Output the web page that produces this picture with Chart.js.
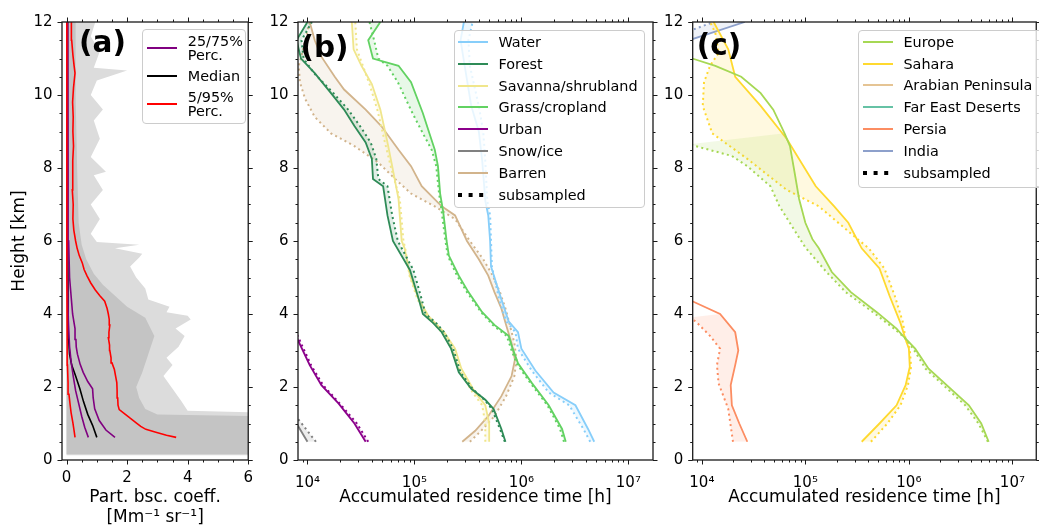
<!DOCTYPE html>
<html lang="en">
<head>
<meta charset="utf-8">
<title>Backscatter and residence time profiles</title>
<script src="https://cdn.jsdelivr.net/npm/chart.js@4.4.1/dist/chart.umd.min.js"></script>
<style>
  html, body { margin: 0; padding: 0; background: #fff; }
  body { position: relative; width: 1039px; height: 528px; overflow: hidden;
         font-family: 'DejaVu Sans', sans-serif; }
  canvas { position: absolute; top: 0; }
  .legend { position: absolute; box-sizing: border-box; border: 1px solid #cccccc; border-radius: 4px;
            background: rgba(255, 255, 255, 0.8); display: flex; flex-direction: column;
            font-size: 14.4px; line-height: 14px; color: #000; }
  .legend .item { display: flex; align-items: center; white-space: nowrap; }
  .legend svg { flex: none; margin-right: 10.5px; }
</style>
</head>
<body>
<canvas id="chartA" width="262" height="528" style="left:0"></canvas>
<canvas id="chartB" width="396" height="528" style="left:262px"></canvas>
<canvas id="chartC" width="381" height="528" style="left:658px"></canvas>
<div class="legend" id="legendA" style="left:142px;top:29px;width:104px;height:95px;padding:4px 0 0 4.3px;gap:7px"></div>
<div class="legend" id="legendB" style="left:454px;top:29.5px;width:191px;height:178.5px;padding:4.5px 0 0 3px;gap:7.8px"></div>
<div class="legend" id="legendC" style="left:858.3px;top:29.5px;width:200px;height:158px;padding:4.3px 0 0 3.7px;gap:7.8px"></div>

<script>
// axis ticks
const heightTicks = [0, 2, 4, 6, 8, 10, 12];
const bscTicks = [0, 2, 4, 6];
const timeTicks = [1e4, 1e5, 1e6, 1e7];

// (a) particle backscatter profiles, [coefficient Mm-1 sr-1, height km]
const bscSpreadAll = [[6.5,0.12],[6.5,1.3],[4.0,1.35],[3.8,1.6],[3.5,1.95],[3.2,2.3],[3.5,2.6],[3.3,2.8],
  [3.7,3.1],[3.9,3.4],[3.6,3.6],[4.1,3.85],[4.0,3.95],[3.3,4.05],[3.4,4.2],[2.7,4.4],[2.6,4.7],[2.3,5.0],
  [2.1,5.3],[2.4,5.55],[2.5,5.65],[1.6,5.8],[2.4,5.9],[1.0,5.97],[0.8,6.2],[1.1,6.6],[0.8,7.0],[1.2,7.4],
  [0.9,7.8],[1.3,7.9],[0.8,8.3],[1.1,8.8],[0.9,9.3],[1.2,9.6],[0.8,10.0],[1.0,10.4],[2.0,10.67],[0.9,10.75],
  [1.1,11.2],[0.8,11.6],[0.95,12.0]];
const bscSpreadCore = [[6.5,0.15],[6.5,1.2],[3.0,1.25],[2.6,1.4],[2.4,1.7],[2.3,2.0],[2.5,2.4],[2.7,2.9],
  [2.9,3.4],[2.6,3.9],[2.0,4.2],[1.6,4.5],[1.2,4.8],[0.9,5.1],[0.65,5.5],[0.5,5.9],[0.4,6.5],[0.35,8],
  [0.3,10],[0.3,12]];
const bscP05 = [[0.28,0.62],[0.25,0.8],[0.21,1.02],[0.15,1.3],[0.12,1.5],[0.08,1.8],[0.05,2.12],[0.03,2.6],
  [0.02,3.2],[0.01,5],[0.01,12]];
const bscP25 = [[0.72,0.62],[0.6,0.9],[0.5,1.2],[0.4,1.55],[0.3,1.9],[0.22,2.3],[0.15,2.7],[0.1,3.1],
  [0.06,3.8],[0.03,5],[0.02,7],[0.02,12]];
const bscMedian = [[1.0,0.62],[0.86,0.95],[0.7,1.25],[0.56,1.6],[0.44,1.95],[0.3,2.3],[0.17,2.6],[0.1,2.9],
  [0.07,3.3],[0.05,4],[0.04,6],[0.03,12]];
const bscP75 = [[1.6,0.62],[1.3,0.82],[1.08,1.08],[0.93,1.4],[0.88,1.7],[0.86,1.95],[0.7,2.15],[0.55,2.4],
  [0.45,2.62],[0.36,2.9],[0.32,3.1],[0.31,3.3],[0.28,3.6],[0.2,4.0],[0.15,4.5],[0.1,5],[0.07,6],[0.05,8],[0.04,12]];
const bscP95 = [[3.62,0.62],[3.3,0.68],[2.95,0.76],[2.62,0.84],[2.45,0.92],[2.3,1.02],[2.08,1.16],[1.9,1.28],
  [1.74,1.38],[1.7,1.5],[1.69,1.7],[1.67,1.9],[1.66,2.12],[1.62,2.3],[1.58,2.48],[1.5,2.66],[1.47,2.8],
  [1.43,3.0],[1.42,3.15],[1.38,3.35],[1.4,3.5],[1.43,3.7],[1.41,3.85],[1.38,4.0],[1.34,4.15],[1.26,4.35],
  [1.1,4.5],[0.95,4.66],[0.8,4.85],[0.68,5.04],[0.58,5.22],[0.52,5.4],[0.42,5.6],[0.35,5.8],[0.3,6.0],
  [0.24,6.3],[0.21,6.6],[0.22,7.0],[0.19,7.4],[0.21,7.8],[0.2,8.2],[0.23,8.6],[0.21,9.0],[0.22,9.4],
  [0.2,9.8],[0.23,10.2],[0.28,10.6],[0.25,10.8],[0.21,11.1],[0.17,11.5],[0.16,12]];

// (b) residence time per surface type, [hours, height km]; full and subsampled
const landNames = ['Water', 'Forest', 'Savanna/shrubland', 'Grass/cropland', 'Urban', 'Snow/ice', 'Barren'];
const landColors = ['#87cefa', '#2e8b57', '#f0e68c', '#62d262', '#8b008b', '#808080', '#d2b48c'];
const waterFull = [[4.8e6,0.5],[4.2e6,0.85],[3.2e6,1.5],[2.0e6,1.85],[1.35e6,2.45],[1.0e6,3.05],[9.3e5,3.5],
  [7.6e5,3.8],[6.5e5,4.4],[5.2e5,5.3],[5.1e5,6.0],[4.9e5,6.7],[4.6e5,7.1],[4.3e5,8.2],[4.0e5,9.0],
  [3.4e5,9.7],[2.95e5,10.8],[2.7e5,11.5],[2.9e5,12]];
const waterSub = [[4.4e6,0.5],[3.8e6,0.85],[2.8e6,1.5],[1.8e6,1.85],[1.25e6,2.45],[9.3e5,3.05],[8.8e5,3.5],
  [7.2e5,3.8],[6.2e5,4.4],[5.3e5,5.3],[5.2e5,6.0],[5.1e5,6.7],[4.8e5,7.1],[4.6e5,8.2],[4.4e5,9.0],
  [4.0e5,9.7],[3.3e5,10.8],[3.2e5,11.5],[3.5e5,12]];
const forestFull = [[7.1e5,0.5],[6.5e5,0.85],[5.5e5,1.4],[4.6e5,1.65],[3.4e5,1.95],[2.6e5,2.4],[2.2e5,3.05],
  [1.8e5,3.5],[1.5e5,3.75],[1.2e5,4.0],[1.1e5,4.4],[9.1e4,5.2],[6.3e4,6.0],[5.6e4,6.7],[5.1e4,7.5],
  [4.1e4,7.7],[4.0e4,8.25],[3.5e4,8.7],[2.75e4,9.15],[2.2e4,9.6],[1.66e4,10.05],[1.17e4,10.6],[8.7e3,11.0],
  [7.9e3,11.5],[1.0e4,12]];
const forestSub = [[7.0e5,0.5],[6.3e5,0.85],[5.3e5,1.4],[4.5e5,1.65],[3.5e5,1.95],[2.7e5,2.4],[2.3e5,3.05],
  [1.9e5,3.5],[1.6e5,3.75],[1.27e5,4.0],[1.17e5,4.4],[9.8e4,5.2],[7.0e4,6.0],[6.2e4,6.7],[5.6e4,7.5],
  [4.6e4,7.7],[4.4e4,8.25],[3.9e4,8.7],[3.1e4,9.15],[2.4e4,9.6],[1.75e4,10.05],[1.15e4,10.6],[9.2e3,11.0],
  [8.8e3,11.5],[1.1e4,12]];
const savannaFull = [[5.0e5,0.5],[5.0e5,1.0],[4.6e5,1.5],[3.7e5,1.85],[2.75e5,2.5],[2.4e5,3.05],[1.9e5,3.5],
  [1.35e5,3.95],[1.1e5,4.4],[9.1e4,5.05],[8.1e4,5.8],[7.6e4,6.0],[7.1e4,7.15],[6.2e4,8.05],[5.6e4,8.7],
  [4.8e4,9.6],[4.0e4,10.3],[3.2e4,10.8],[2.7e4,11.25],[2.6e4,12]];
const savannaSub = [[4.6e5,0.5],[4.6e5,1.0],[4.3e5,1.5],[3.5e5,1.85],[2.6e5,2.5],[2.25e5,3.05],[1.8e5,3.5],
  [1.3e5,3.95],[1.07e5,4.4],[9.0e4,5.05],[8.2e4,5.8],[7.9e4,6.0],[7.3e4,7.15],[6.0e4,8.05],[5.3e4,8.7],
  [4.5e4,9.6],[3.8e4,10.3],[3.3e4,10.8],[2.9e4,11.25],[2.8e4,12]];
const grassFull = [[2.6e6,0.5],[2.4e6,0.85],[1.8e6,1.5],[1.26e6,2.1],[9.3e5,2.65],[8.3e5,3.05],[7.6e5,3.4],
  [5.6e5,3.7],[4.3e5,4.05],[3.2e5,4.6],[2.6e5,5.05],[2.1e5,5.6],[2.0e5,6.0],[1.86e5,6.8],[1.74e5,7.3],
  [1.66e5,8.05],[1.55e5,8.5],[1.38e5,8.95],[1.2e5,9.5],[9.3e4,10.35],[7.1e4,10.8],[4.1e4,11.0],[3.7e4,11.5],
  [4.8e4,12]];
const grassSub = [[2.5e6,0.5],[2.3e6,0.85],[1.75e6,1.5],[1.22e6,2.1],[9.0e5,2.65],[8.0e5,3.05],[7.3e5,3.4],
  [5.4e5,3.7],[4.2e5,4.05],[3.1e5,4.6],[2.5e5,5.05],[2.05e5,5.6],[1.95e5,6.0],[1.8e5,6.8],[1.7e5,7.3],
  [1.6e5,8.05],[1.45e5,8.5],[1.2e5,8.95],[9.6e4,9.5],[7.0e4,10.35],[5.6e4,10.8],[4.6e4,11.0],[4.2e4,11.5],
  [3.8e4,12]];
const urbanFull = [[3.5e4,0.5],[2.75e4,1.0],[1.95e4,1.55],[1.35e4,2.05],[1.05e4,2.6],[8.1e3,3.3],[7.5e3,3.5]];
const urbanSub = [[3.7e4,0.5],[2.9e4,1.0],[2.0e4,1.55],[1.4e4,2.05],[1.08e4,2.6],[8.4e3,3.3],[7.8e3,3.5]];
const snowFull = [[1.0e4,0.5],[8.1e3,0.95],[7.5e3,1.1]];
const snowSub = [[1.2e4,0.5],[8.3e3,1.1],[7.6e3,1.25]];
const barrenFull = [[2.8e5,0.5],[3.7e5,0.8],[4.9e5,1.2],[6.5e5,1.75],[8.1e5,2.3],[8.7e5,2.75],[8.1e5,3.2],
  [7.2e5,3.7],[6.5e5,4.15],[5.6e5,4.6],[4.9e5,5.05],[4.0e5,5.5],[3.1e5,6.0],[2.4e5,6.7],[1.8e5,6.95],
  [1.17e5,7.5],[9.3e4,8.05],[7.1e4,8.5],[4.9e4,9.15],[3.5e4,9.6],[2.2e4,10.15],[1.8e4,10.5],[1.35e4,11.05],
  [1.17e4,11.5],[1.05e4,12]];
const barrenSub = [[3.3e5,0.5],[4.2e5,0.8],[5.6e5,1.2],[7.2e5,1.75],[8.6e5,2.3],[9.0e5,2.75],[8.6e5,3.2],
  [7.8e5,3.7],[7.1e5,4.15],[6.3e5,4.6],[5.4e5,5.05],[4.4e5,5.5],[3.3e5,6.0],[2.4e5,6.6],[1.55e5,6.95],
  [9.3e4,7.3],[6.6e4,7.7],[4.6e4,8.15],[2.75e4,8.6],[1.66e4,8.95],[1.17e4,9.4],[9.5e3,9.9],[8.5e3,10.35],
  [8.3e3,10.8],[9.0e3,11.2],[1.05e4,12]];
const landFull = [waterFull, forestFull, savannaFull, grassFull, urbanFull, snowFull, barrenFull];
const landSub = [waterSub, forestSub, savannaSub, grassSub, urbanSub, snowSub, barrenSub];

// (c) residence time per source region, [hours, height km]; full and subsampled
const regionNames = ['Europe', 'Sahara', 'Arabian Peninsula', 'Far East Deserts', 'Persia', 'India'];
const regionColors = ['#a6d854', '#ffd92f', '#e5c494', '#66c2a5', '#fc8d62', '#8da0cb'];
const europeFull = [[5.9e6,0.5],[5.0e6,1.0],[3.8e6,1.5],[1.55e6,2.5],[1.15e6,3.05],[9.1e5,3.35],[7.6e5,3.6],
  [4.9e5,4.05],[2.75e5,4.6],[1.8e5,5.15],[1.35e5,5.8],[1.17e5,6.05],[1.0e5,6.5],[8.7e4,7.15],[7.9e4,7.85],
  [7.1e4,8.6],[6.3e4,8.95],[4.9e4,9.6],[3.7e4,10.05],[2.4e4,10.5],[1.35e4,10.8],[8.1e3,11.0],[7.5e3,11.1]];
const europeSub = [[5.8e6,0.5],[4.7e6,1.0],[3.5e6,1.5],[1.45e6,2.5],[1.1e6,3.05],[9.1e5,3.35],[7.2e5,3.6],
  [4.5e5,4.05],[2.45e5,4.6],[1.6e5,5.15],[1.0e5,5.82],[5.6e4,6.96],[4.6e4,7.5],[2.75e4,8.05],[1.95e4,8.33],
  [8.7e3,8.6],[7.5e3,8.65]];
const saharaFull = [[3.5e5,0.5],[5.2e5,1.0],[7.6e5,1.5],[9.3e5,2.05],[1.02e6,2.55],[1.0e6,3.05],[9.3e5,3.3],
  [8.3e5,3.75],[6.5e5,4.5],[5.2e5,5.25],[3.5e5,5.8],[2.6e5,6.5],[1.9e5,6.95],[1.26e5,7.5],[6.6e4,8.8],
  [3.7e4,9.7],[2.1e4,10.5],[1.8e4,11.25],[1.3e4,12]];
const saharaSub = [[4.3e5,0.5],[6.2e5,1.0],[8.3e5,1.5],[9.8e5,2.05],[1.05e6,2.55],[1.02e6,3.05],[9.3e5,3.3],
  [8.8e5,3.75],[7.3e5,4.5],[5.8e5,5.25],[4.1e5,5.8],[3.2e5,6.05],[1.35e5,6.95],[6.6e4,7.4],[2.75e4,8.25],
  [1.26e4,8.95],[1.02e4,9.7],[1.05e4,10.35],[1.2e4,10.8],[1.45e4,11.15],[1.35e4,11.7],[1.2e4,12]];
const arabiaFull = [];
const arabiaSub = [];
const farEastFull = [];
const farEastSub = [];
const persiaFull = [[2.75e4,0.5],[2.3e4,1.0],[1.95e4,1.5],[1.9e4,2.05],[2.1e4,2.6],[2.25e4,3.0],[2.1e4,3.5],
  [1.5e4,4.0],[8.1e3,4.35],[7.5e3,4.42]];
const persiaSub = [[2.0e4,0.5],[1.8e4,1.4],[1.45e4,2.1],[1.4e4,2.6],[1.5e4,3.05],[1.2e4,3.4],[8.7e3,3.8],[7.5e3,3.9]];
const indiaFull = [[7.5e3,11.5],[2.6e4,12]];
const indiaSub = [[7.5e3,11.75],[1.3e4,12]];
const regionFull = [europeFull, saharaFull, arabiaFull, farEastFull, persiaFull, indiaFull];
const regionSub = [europeSub, saharaSub, arabiaSub, farEastSub, persiaSub, indiaSub];

const FONT = "'DejaVu Sans', sans-serif";
const SUP = { '0': '⁰', '1': '¹', '2': '²', '3': '³', '4': '⁴', '5': '⁵', '6': '⁶', '7': '⁷', '8': '⁸', '9': '⁹' };

function points(arr) {
  return arr.map(p => ({ x: p[0], y: p[1] }));
}

function withAlpha(hex, a) {
  const n = parseInt(hex.slice(1), 16);
  return 'rgba(' + (n >> 16) + ',' + ((n >> 8) & 255) + ',' + (n & 255) + ',' + a + ')';
}

function linearSteps(lo, hi, step) {
  const out = [];
  for (let v = lo; v <= hi + 1e-9; v += step) out.push(+v.toFixed(3));
  return out;
}

function logMinors(lo, hi) {
  const out = [];
  for (let e = 3; e <= 7; e++) {
    for (let k = 2; k <= 9; k++) {
      const v = k * Math.pow(10, e);
      if (v >= lo && v <= hi) out.push(v);
    }
  }
  return out;
}

// spines on all four sides, outward ticks, and the panel letter
const frameTicks = {
  id: 'frameTicks',
  afterDatasetsDraw(chart, args, opts) {
    const { ctx, chartArea: a } = chart;
    const xs = chart.scales.x, ys = chart.scales.y;
    ctx.save();
    ctx.strokeStyle = '#1a1a1a';
    ctx.lineWidth = 1;
    ctx.beginPath();
    const drawX = (vals, len) => vals.forEach(v => {
      const px = Math.round(xs.getPixelForValue(v)) + 0.5;
      if (px < a.left - 0.6 || px > a.right + 0.6) return;
      ctx.moveTo(px, a.bottom); ctx.lineTo(px, a.bottom + len);
      ctx.moveTo(px, a.top); ctx.lineTo(px, a.top - len);
    });
    const drawY = (vals, len) => vals.forEach(v => {
      const py = Math.round(ys.getPixelForValue(v)) + 0.5;
      ctx.moveTo(a.left, py); ctx.lineTo(a.left - len, py);
      ctx.moveTo(a.right, py); ctx.lineTo(a.right + len, py);
    });
    drawX(opts.xMajor, 4.5);
    drawX(opts.xMinor, 2.5);
    drawY(opts.yMajor, 4.5);
    drawY(opts.yMinor, 2.5);
    ctx.stroke();
    ctx.lineWidth = 1.3;
    ctx.strokeRect(a.left, a.top, a.right - a.left, a.bottom - a.top);
    ctx.fillStyle = '#000';
    ctx.font = 'bold 29.5px ' + FONT;
    ctx.textBaseline = 'alphabetic';
    ctx.textAlign = 'left';
    ctx.fillText(opts.tag, a.left + opts.tagDx, a.top + opts.tagDy);
    ctx.restore();
  }
};

function heightAxis(width, withTitle) {
  return {
    type: 'linear', position: 'left', min: 0, max: 12,
    grid: { display: false, drawTicks: false },
    border: { display: false },
    afterBuildTicks: s => { s.ticks = heightTicks.map(v => ({ value: v })); },
    afterFit: s => { s.width = width; },
    ticks: { color: '#000', padding: 9.5, font: { family: FONT, size: 15 }, callback: v => String(v) },
    title: {
      display: withTitle, text: 'Height [km]', color: '#000',
      font: { family: FONT, size: 17, lineHeight: 1.2 }, padding: { top: 9.5, bottom: 0 }
    }
  };
}

function timeAxis() {
  return {
    type: 'logarithmic', position: 'bottom', min: 8160, max: 1.7e7,
    grid: { display: false, drawTicks: false },
    border: { display: false },
    afterBuildTicks: s => { s.ticks = timeTicks.map(v => ({ value: v })); },
    afterFit: s => { s.height = 68; },
    ticks: {
      color: '#000', padding: 14, autoSkip: false, maxRotation: 0,
      font: { family: FONT, size: 15 },
      callback: v => '10' + String(Math.round(Math.log10(v))).split('').map(c => SUP[c]).join('')
    },
    title: {
      display: true, text: 'Accumulated residence time [h]', color: '#000',
      font: { family: FONT, size: 17, lineHeight: 1.2 }, padding: { top: 0, bottom: 20.3 }
    }
  };
}

function baseOptions(rightPad, scales, ticks) {
  return {
    indexAxis: 'y',
    responsive: false,
    animation: false,
    devicePixelRatio: 1,
    layout: { padding: { left: 0, right: rightPad, top: 22, bottom: 0 } },
    elements: { point: { radius: 0, hoverRadius: 0 }, line: { tension: 0, borderCapStyle: 'butt' } },
    plugins: { legend: { display: false }, tooltip: { enabled: false }, frameTicks: ticks },
    scales: scales
  };
}

// one solid line per series, its subsampled twin dotted, and a light band between them
function pairDatasets(names, colors, full, sub) {
  const sets = [];
  names.forEach((name, i) => {
    sets.push({
      label: name, data: points(full[i]), borderColor: colors[i], borderWidth: 1.8,
      fill: { target: '+1', above: withAlpha(colors[i], 0.15), below: withAlpha(colors[i], 0.15) }
    });
    sets.push({
      label: name + ' (subsampled)', data: points(sub[i]), borderColor: colors[i], borderWidth: 2,
      borderDash: [2, 3.3], fill: false
    });
  });
  return sets;
}

// ---- (a) ----
new Chart(document.getElementById('chartA'), {
  type: 'line',
  data: {
    datasets: [
      { label: '5/95% Perc.', data: points(bscP05), borderColor: '#ff0000', borderWidth: 1.6, fill: false, order: 1 },
      { label: '5/95% Perc.', data: points(bscP95), borderColor: '#ff0000', borderWidth: 1.6, fill: false, order: 1 },
      { label: '25/75% Perc.', data: points(bscP25), borderColor: '#800080', borderWidth: 1.6, fill: false, order: 2 },
      { label: '25/75% Perc.', data: points(bscP75), borderColor: '#800080', borderWidth: 1.6, fill: false, order: 2 },
      { label: 'Median', data: points(bscMedian), borderColor: '#000000', borderWidth: 1.6, fill: false, order: 2 },
      { label: 'profiles', data: points(bscSpreadCore), borderWidth: 0, borderColor: 'rgba(0,0,0,0)',
        backgroundColor: '#c4c4c4', fill: 'origin', order: 9 },
      { label: 'profiles', data: points(bscSpreadAll), borderWidth: 0, borderColor: 'rgba(0,0,0,0)',
        backgroundColor: '#dcdcdc', fill: 'origin', order: 10 }
    ]
  },
  options: baseOptions(8.7, {
    x: {
      type: 'linear', position: 'bottom', min: -0.15, max: 6,
      grid: { display: false, drawTicks: false },
      border: { display: false },
      afterBuildTicks: s => { s.ticks = bscTicks.map(v => ({ value: v })); },
      afterFit: s => { s.height = 68; },
      ticks: { color: '#000', padding: 9, autoSkip: false, maxRotation: 0, font: { family: FONT, size: 15 } },
      title: {
        display: true, text: ['Part. bsc. coeff.', '[Mm⁻¹ sr⁻¹]'], color: '#000',
        font: { family: FONT, size: 17, lineHeight: 1.2 }, padding: { top: 0, bottom: 0 }
      }
    },
    y: heightAxis(62, true)
  }, {
    xMajor: bscTicks, xMinor: linearSteps(0.5, 5.5, 0.5),
    yMajor: heightTicks, yMinor: linearSteps(0.5, 11.5, 0.5),
    tag: '(a)', tagDx: 17, tagDy: 30
  }),
  plugins: [frameTicks]
});

// ---- (b) ----
new Chart(document.getElementById('chartB'), {
  type: 'line',
  data: { datasets: pairDatasets(landNames, landColors, landFull, landSub) },
  options: baseOptions(5, { x: timeAxis(), y: heightAxis(36, false) }, {
    xMajor: timeTicks, xMinor: logMinors(8160, 1.7e7),
    yMajor: heightTicks, yMinor: linearSteps(0.5, 11.5, 0.5),
    tag: '(b)', tagDx: 2.5, tagDy: 34.5
  }),
  plugins: [frameTicks]
});

// ---- (c) ----
new Chart(document.getElementById('chartC'), {
  type: 'line',
  data: { datasets: pairDatasets(regionNames, regionColors, regionFull, regionSub) },
  options: baseOptions(0.7, { x: timeAxis(), y: heightAxis(34.7, false) }, {
    xMajor: timeTicks, xMinor: logMinors(8160, 1.7e7),
    yMajor: heightTicks, yMinor: linearSteps(0.5, 11.5, 0.5),
    tag: '(c)', tagDx: 4, tagDy: 33
  }),
  plugins: [frameTicks]
});

// ---- legends ----
function handle(color, dotted) {
  const ns = 'http://www.w3.org/2000/svg';
  const svg = document.createElementNS(ns, 'svg');
  svg.setAttribute('width', '30');
  svg.setAttribute('height', '8');
  const line = document.createElementNS(ns, 'line');
  line.setAttribute('x1', '0'); line.setAttribute('x2', '30');
  line.setAttribute('y1', '4'); line.setAttribute('y2', '4');
  line.setAttribute('stroke', color);
  line.setAttribute('stroke-width', dotted ? '4' : '2');
  if (dotted) line.setAttribute('stroke-dasharray', '4 6.6');
  svg.appendChild(line);
  return svg;
}

function buildLegend(id, entries) {
  const box = document.getElementById(id);
  entries.forEach(e => {
    const item = document.createElement('div');
    item.className = 'item';
    item.appendChild(handle(e.color, e.dotted));
    const text = document.createElement('div');
    e.lines.forEach((ln, i) => {
      if (i) text.appendChild(document.createElement('br'));
      text.appendChild(document.createTextNode(ln));
    });
    item.appendChild(text);
    box.appendChild(item);
  });
}

buildLegend('legendA', [
  { lines: ['25/75%', 'Perc.'], color: '#800080' },
  { lines: ['Median'], color: '#000000' },
  { lines: ['5/95%', 'Perc.'], color: '#ff0000' }
]);
buildLegend('legendB', landNames.map((n, i) => ({ lines: [n], color: landColors[i] }))
  .concat([{ lines: ['subsampled'], color: '#000', dotted: true }]));
buildLegend('legendC', regionNames.map((n, i) => ({ lines: [n], color: regionColors[i] }))
  .concat([{ lines: ['subsampled'], color: '#000', dotted: true }]));
</script>
</body>
</html>
